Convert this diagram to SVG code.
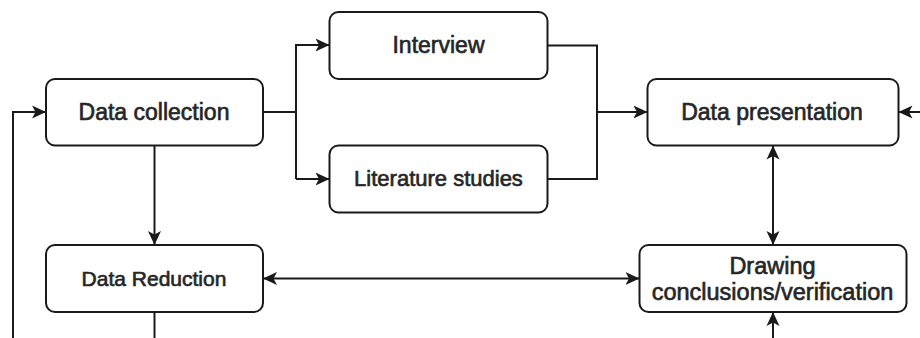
<svg xmlns="http://www.w3.org/2000/svg" width="920" height="338" viewBox="0 0 920 338">
  <defs>
    <marker id="arr" markerUnits="userSpaceOnUse" markerWidth="15" markerHeight="14" refX="14" refY="7" orient="auto-start-reverse" viewBox="0 0 15 14">
      <path d="M0,0.5 L14,7 L0,13.5 L3.5,7 Z" fill="#1a1a1a"/>
    </marker>
  </defs>
  <style>
    .box { fill: #ffffff; stroke: #1a1a1a; stroke-width: 2; }
    .lbl { font-family: "Liberation Sans", Arial, Helvetica, sans-serif; fill: #262626; stroke: #262626; stroke-width: 0.65; text-anchor: middle; }
    .conn { fill: none; stroke: #1a1a1a; stroke-width: 2; }
  </style>
  <rect width="920" height="338" fill="#ffffff"/>

  <g id="connectors">
    <path class="conn" d="M263,112 H296"/>
    <path class="conn" d="M296,179 V45 H329.5" marker-end="url(#arr)"/>
    <path class="conn" d="M296,179 H329.5" marker-end="url(#arr)"/>
    <path class="conn" d="M547.5,45.5 H597 V179 H547.5"/>
    <path class="conn" d="M597,112 H647.5" marker-end="url(#arr)"/>
    <path class="conn" d="M154.5,145.5 V245" marker-end="url(#arr)"/>
    <path class="conn" d="M263,278.5 H639.5" marker-start="url(#arr)" marker-end="url(#arr)"/>
    <path class="conn" d="M773,145.5 V245" marker-start="url(#arr)" marker-end="url(#arr)"/>
    <path class="conn" d="M922,112 H898.5" marker-end="url(#arr)"/>
    <path class="conn" d="M773,340 V312" marker-end="url(#arr)"/>
    <path class="conn" d="M154.5,312 V340"/>
    <path class="conn" d="M13,340 V112 H46" marker-end="url(#arr)"/>
  </g>

  <g id="data-collection">
    <rect class="box" x="46" y="79" width="217" height="66.5" rx="9"/>
    <text class="lbl" x="154" y="119.5" font-size="23">Data collection</text>
  </g>
  <g id="interview">
    <rect class="box" x="329.5" y="12" width="218" height="67" rx="9"/>
    <text class="lbl" x="438.5" y="53" font-size="23">Interview</text>
  </g>
  <g id="literature-studies">
    <rect class="box" x="329.5" y="145.5" width="218" height="67" rx="9"/>
    <text class="lbl" x="438.5" y="185.5" font-size="22">Literature studies</text>
  </g>
  <g id="data-presentation">
    <rect class="box" x="647.5" y="79" width="251" height="66.5" rx="9"/>
    <text class="lbl" x="772" y="119.5" font-size="23">Data presentation</text>
  </g>
  <g id="data-reduction">
    <rect class="box" x="46" y="245" width="217" height="67" rx="9"/>
    <text class="lbl" x="154" y="285.5" font-size="21">Data Reduction</text>
  </g>
  <g id="drawing-conclusions">
    <rect class="box" x="639.5" y="245" width="267" height="67" rx="9"/>
    <text class="lbl" x="772.5" y="273.5" font-size="23.5">Drawing</text>
    <text class="lbl" x="772.5" y="299.5" font-size="23.5">conclusions/verification</text>
  </g>
</svg>
